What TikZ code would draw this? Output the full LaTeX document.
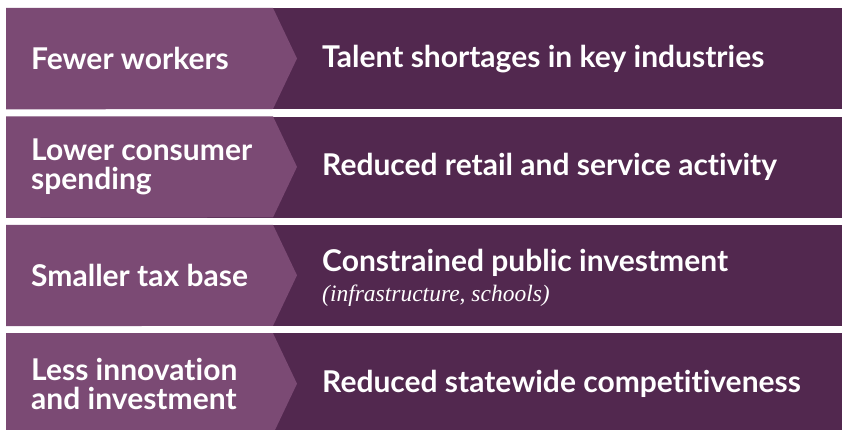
\documentclass[tikz,border=0pt]{standalone}
\usepackage{fontspec}
\setmainfont{Lato}[Ligatures=NoCommon]
\newfontfamily\notefont{Liberation Serif}
\newcommand{\rownote}[1]{{\notefont\mdseries\itshape\fontsize{23.5}{26}\selectfont #1}}
\usetikzlibrary{math,positioning}
\definecolor{causecol}{HTML}{7B4A74}
\definecolor{effectcol}{HTML}{52284F}

\begin{document}
\begin{tikzpicture}[x=1pt,y=1pt]

\tikzmath{
	\H = 101;   % row height
	\G = 108.4; % row pitch
	\C = 267;   % width of the cause part
	\T = 24;    % depth of the arrow point
}

\tikzset{
  effect box/.style={
    fill=effectcol, draw=none,
    minimum width=836pt, minimum height=\H pt,
    inner sep=0pt, anchor=north west
  },
  row text/.style={
    text=white, inner sep=0pt, anchor=west, align=left,
    font=\bfseries\fontsize{30}{28.5}\selectfont
  }
}

\useasboundingbox (0,0) rectangle (842,429);

% one band per row, lighter arrow on the left
\foreach \i in {1,...,4}{
  \node[effect box] (row\i) at (6,{421-\G*(\i-1)}) {};
  \fill[causecol] (row\i.north west) -- ++(\C,0) -- ++(\T,-\H/2)
    -- ++(-\T,-\H/2) -- (row\i.south west) -- cycle;
}

\node[row text] (cause1) at ([xshift=25pt]row1.west) {Fewer workers};
\node[row text] (cause2) at ([xshift=25pt]row2.west) {Lower consumer\\spending};
\node[row text] (cause3) at ([xshift=25pt]row3.west) {Smaller tax base};
\node[row text] (cause4) at ([xshift=25pt]row4.west) {Less innovation\\and investment};

\node[row text] (effect1) at ([xshift=316pt]row1.west) {Talent shortages in key industries};
\node[row text] (effect2) at ([xshift=316pt]row2.west) {Reduced retail and service activity};
\node[row text] (effect3) at ([xshift=316pt,yshift=-2pt]row3.west)
  {Constrained public investment\\[1.5pt]\rownote{(infrastructure, schools)}};
\node[row text] (effect4) at ([xshift=316pt]row4.west) {Reduced statewide competitiveness};

\end{tikzpicture}
\end{document}
